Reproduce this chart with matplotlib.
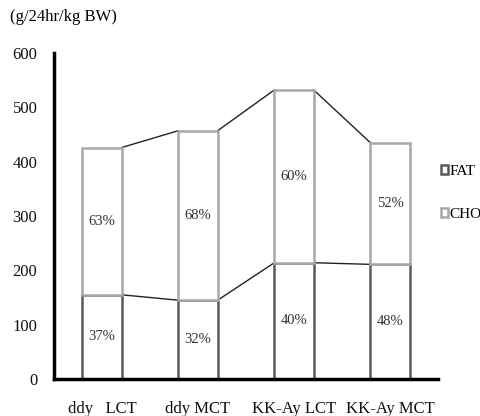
import matplotlib.pyplot as plt
import numpy as np
from matplotlib.patches import Patch

# data
groups = ["ddy   LCT", "ddy MCT", "KK-Ay LCT", "KK-Ay MCT"]
fat = [155, 145, 214, 211]
cho = [271, 312, 318, 224]
fat_pct = ["37%", "32%", "40%", "48%"]
cho_pct = ["63%", "68%", "60%", "52%"]
yticks = [0, 100, 200, 300, 400, 500, 600]

plt.rcParams["font.family"] = "Liberation Serif"

fig = plt.figure(figsize=(4.81, 4.16), dpi=100)
ax = fig.add_axes([54 / 481, 37 / 416, 384 / 481, 326 / 416])

x = np.arange(len(groups))
w = 0.41
fat_c = "#5a5a5a"
cho_c = "#a8a8a8"
total = np.array(fat) + np.array(cho)

ax.bar(x, fat, width=w, color="white", edgecolor=fat_c, linewidth=1.8, zorder=2)
ax.bar(x, cho, width=w, bottom=fat, color="white", edgecolor=cho_c, linewidth=1.8, zorder=3)

# series lines between bars
for i in range(len(groups) - 1):
    xs = [x[i] + w / 2, x[i + 1] - w / 2]
    ax.plot(xs, [fat[i], fat[i + 1]], color="#222222", lw=1.0, zorder=1)
    ax.plot(xs, [total[i], total[i + 1]], color="#222222", lw=1.0, zorder=1)

for i in range(len(groups)):
    ax.text(x[i], fat[i] / 2, fat_pct[i], ha="center", va="center", fontsize=10.5, color="#333333")
    ax.text(x[i], fat[i] + cho[i] / 2, cho_pct[i], ha="center", va="center", fontsize=10.5, color="#333333")

ax.set_xlim(-0.5, len(groups) - 0.5)
ax.set_ylim(0, 600)
ax.set_yticks(yticks)
ax.set_xticks(x)
ax.set_xticklabels(groups)
ax.tick_params(axis="both", length=0, labelsize=12, colors="#111111")
ax.tick_params(axis="y", pad=12)
ax.tick_params(axis="x", pad=16)
for s in ["top", "right"]:
    ax.spines[s].set_visible(False)
for s in ["left", "bottom"]:
    ax.spines[s].set_linewidth(2.5)
    ax.spines[s].set_color("black")

fig.text(10 / 481, 1 - 17 / 416, "(g/24hr/kg BW)", fontsize=12, va="center", ha="left")

handles = [
    Patch(facecolor="white", edgecolor=fat_c, linewidth=1.8, label="FAT"),
    Patch(facecolor="white", edgecolor=cho_c, linewidth=1.8, label="CHO"),
]
fig.legend(handles=handles, loc="upper left", bbox_to_anchor=(433 / 481, 1 - 157 / 416),
           frameon=False, handlelength=0.5, handleheight=0.6, handletextpad=0.1,
           labelspacing=1.95, fontsize=11, borderpad=0)

fig.savefig("out.png", dpi=100)
